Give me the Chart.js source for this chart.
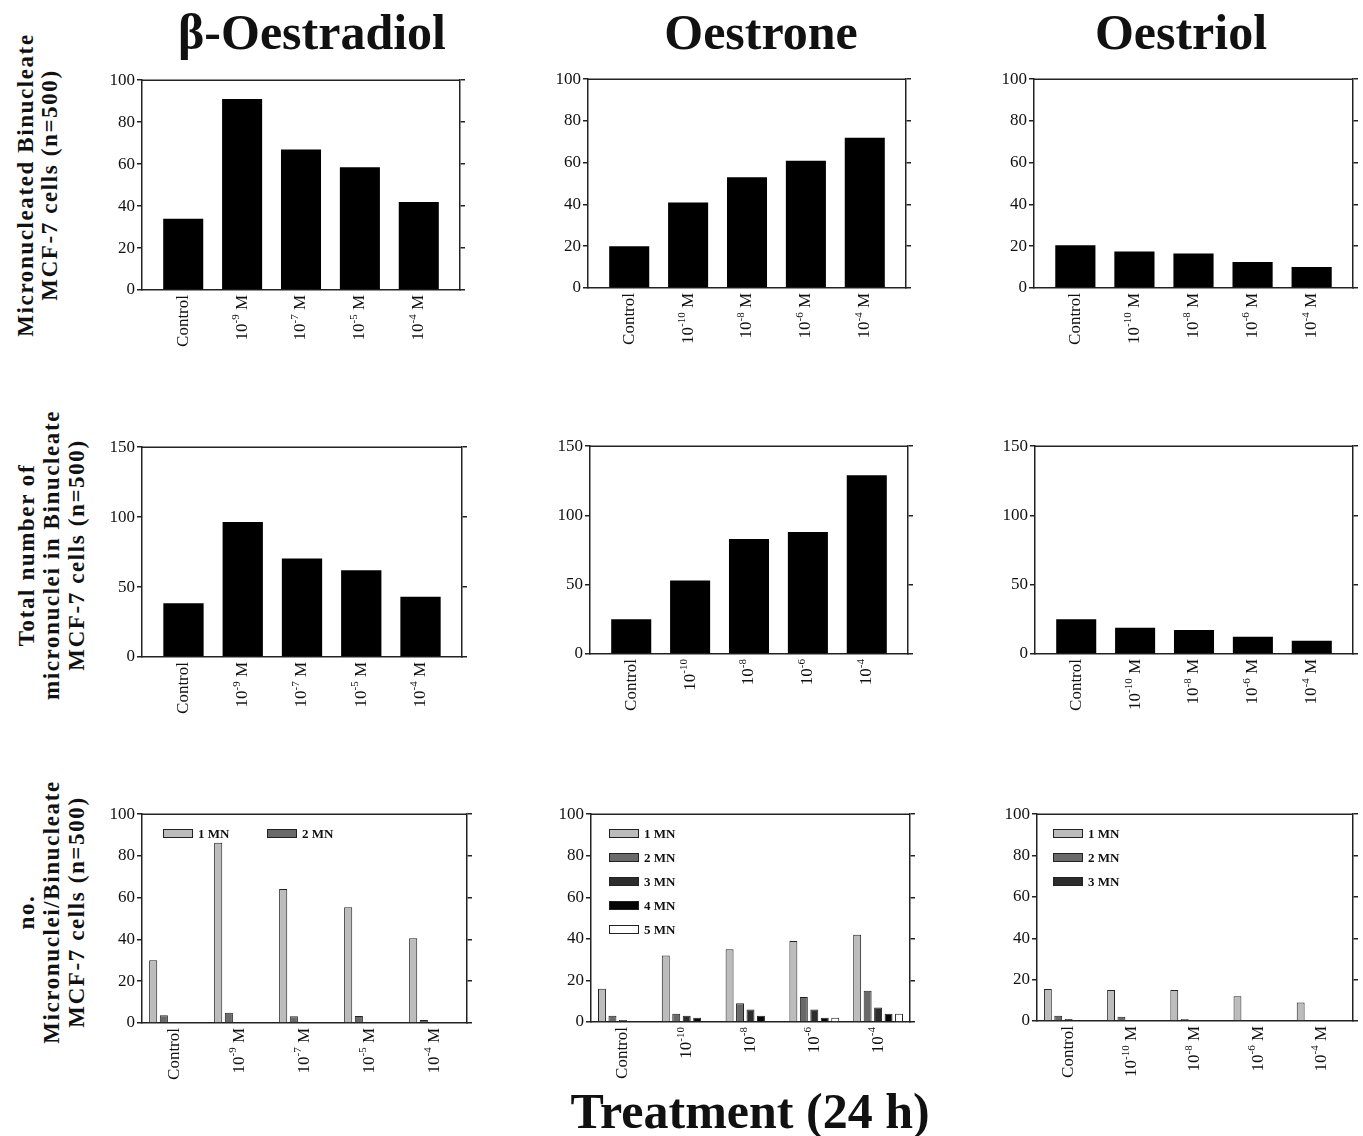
<!DOCTYPE html>
<html>
<head>
<meta charset="utf-8">
<script src="https://cdn.jsdelivr.net/npm/chart.js@4.4.1/dist/chart.umd.min.js"></script>
<style>
  html, body { margin: 0; padding: 0; background: #fff; }
  body { width: 1363px; height: 1136px; position: relative; overflow: hidden;
         font-family: "Liberation Serif", "Times New Roman", serif; color: #111; }
  canvas { position: absolute; }
  .title { position: absolute; font-weight: bold; font-size: 50px; line-height: 50px;
           white-space: nowrap; transform: translateX(-50%); }
  .ytitle { position: absolute; font-weight: bold; font-size: 23px; letter-spacing: 1.6px;
            text-align: center; white-space: nowrap; transform: translate(-50%, -50%) rotate(-90deg); }
  .leg { position: absolute; font-weight: bold; font-size: 13px; line-height: 13px; white-space: nowrap; }
  .sw { position: absolute; width: 28px; height: 7px; border: 1px solid #222; }
</style>
</head>
<body>
<div class="title" style="left:312px;top:7px">β-Oestradiol</div>
<div class="title" style="left:761px;top:7px">Oestrone</div>
<div class="title" style="left:1181px;top:7px">Oestriol</div>

<div class="ytitle" style="left:38px;top:185px;line-height:24px">Micronucleated Binucleate<br>MCF-7 cells (n=500)</div>
<div class="ytitle" style="left:51px;top:555px;line-height:25px">Total number of<br>micronuclei in Binucleate<br>MCF-7 cells (n=500)</div>
<div class="ytitle" style="left:51px;top:912px;line-height:25px">no.<br>Micronuclei/Binucleate<br>MCF-7 cells (n=500)</div>

<div class="title" style="left:750px;top:1086px">Treatment (24 h)</div>

<script>
// Concentrations (x axis labels)
const dosesE2 = ['Control', '10⁻⁹ M', '10⁻⁷ M', '10⁻⁵ M', '10⁻⁴ M'];
const dosesE1 = ['Control', '10⁻¹⁰ M', '10⁻⁸ M', '10⁻⁶ M', '10⁻⁴ M'];
const dosesE1Short = ['Control', '10⁻¹⁰', '10⁻⁸', '10⁻⁶', '10⁻⁴'];
const dosesE3 = ['Control', '10⁻¹⁰ M', '10⁻⁸ M', '10⁻⁶ M', '10⁻⁴ M'];

// Micronucleated binucleate cells (n=500)
const mnCellsE2 = [34, 91, 67, 58.5, 42];
const mnCellsE1 = [20, 41, 53, 61, 72];
const mnCellsE3 = [20.5, 17.5, 16.5, 12.5, 10];

// Total number of micronuclei in binucleate cells
const totalMnE2 = [38.5, 96.5, 70.5, 62, 43];
const totalMnE1 = [25, 53, 83, 88, 129];
const totalMnE3 = [25, 19, 17.3, 12.5, 9.6];

// Micronuclei per binucleate cell: 1 MN .. 5 MN
const mnClasses = ['1 MN', '2 MN', '3 MN', '4 MN', '5 MN'];
const mnColors = ['#bcbcbc', '#6a6a6a', '#2c2c2c', '#050505', '#ffffff'];

const perCellE2 = [
    [30, 86.3, 64.2, 55.4, 40.6],
    [3.7, 4.9, 3.2, 3.3, 1.4],
    [0, 0, 0, 0, 0],
    [0, 0, 0, 0, 0],
    [0, 0, 0, 0, 0]
];
const perCellE1 = [
    [16, 32, 35, 39, 42],
    [3, 4, 9, 12, 15],
    [1, 3, 6, 6, 7],
    [0, 2, 3, 2, 4],
    [0, 0, 0, 2, 4]
];
const perCellE3 = [
    [15.5, 15, 15, 12, 9],
    [2.5, 2, 1, 0, 0],
    [1, 0, 0, 0, 0],
    [0, 0, 0, 0, 0],
    [0, 0, 0, 0, 0]
];

const FONT = '"Liberation Serif", "Times New Roman", serif';
const AXIS = '#222';

// top edge of the frame
const frameTop = {
    id: 'frameTop',
    afterDraw(chart) {
        const a = chart.chartArea;
        const ctx = chart.ctx;
        ctx.save();
        ctx.strokeStyle = AXIS;
        ctx.lineWidth = 1.5;
        ctx.beginPath();
        ctx.moveTo(a.left, a.top);
        ctx.lineTo(a.right, a.top);
        ctx.stroke();
        ctx.restore();
    }
};

// "10⁻⁹ M" -> ["10", "-9", " M"] so the exponent can be drawn raised
const supMap = { '⁻': '-', '⁰': '0', '¹': '1', '²': '2', '³': '3', '⁴': '4', '⁵': '5', '⁶': '6', '⁷': '7', '⁸': '8', '⁹': '9' };
function splitLabel(s) {
    const m = s.match(/^(\d+)([⁻⁰¹²³⁴⁵⁶⁷⁸⁹]+)(.*)$/);
    if (!m) return [s, '', ''];
    return [m[1], Array.from(m[2]).map(c => supMap[c]).join(''), m[3]];
}

// rotated x labels with real superscripts
function doseLabels(labels) {
    return {
        id: 'doseLabels',
        afterDraw(chart) {
            const ctx = chart.ctx;
            const xs = chart.scales.x;
            const top = chart.chartArea.bottom + 5;
            const big = '17px ' + FONT, small = '11px ' + FONT;
            labels.forEach((lab, i) => {
                const [base, exp, rest] = splitLabel(lab);
                ctx.save();
                ctx.translate(xs.getPixelForValue(i), top);
                ctx.rotate(-Math.PI / 2);
                ctx.fillStyle = '#111';
                ctx.textBaseline = 'middle';
                ctx.textAlign = 'left';
                ctx.font = big;
                const wb = ctx.measureText(base).width;
                const wr = ctx.measureText(rest).width;
                ctx.font = small;
                const we = ctx.measureText(exp).width;
                let x = -(wb + we + wr);
                ctx.font = big;
                ctx.fillText(base, x, 0);
                x += wb;
                ctx.font = small;
                ctx.fillText(exp, x, -6);
                x += we;
                ctx.font = big;
                ctx.fillText(rest, x, 0);
                ctx.restore();
            });
        }
    };
}

function toPoints(values) {
    return values.map((v, i) => ({ x: i, y: v }));
}

// box = plot area [left, top, right, bottom] on the page
function makePanel(box, labels, datasets, yMax, yStep, pad, barPct, catPct) {
    const [L, T, R, B] = box;
    const canvas = document.createElement('canvas');
    const w = R - L + 60, h = B - T + 92;
    canvas.width = w; canvas.height = h;
    canvas.style.left = (L - 50) + 'px';
    canvas.style.top = (T - 12) + 'px';
    canvas.style.width = w + 'px';
    canvas.style.height = h + 'px';
    document.body.appendChild(canvas);

    const yCommon = {
        min: 0, max: yMax,
        grid: { display: true, drawOnChartArea: false, drawTicks: true, tickLength: 5, color: AXIS, lineWidth: 1.5 },
        border: { display: true, color: AXIS, width: 1.5 }
    };

    new Chart(canvas.getContext('2d'), {
        type: 'bar',
        data: {
            datasets: datasets.map(d => ({
                label: d.label,
                data: toPoints(d.values),
                backgroundColor: d.color,
                borderColor: d.border,
                borderWidth: d.borderWidth,
                borderSkipped: 'start',
                barPercentage: barPct,
                categoryPercentage: catPct
            }))
        },
        options: {
            responsive: false,
            animation: false,
            layout: { padding: { top: 12, right: 2, left: 0, bottom: 0 } },
            plugins: { legend: { display: false }, tooltip: { enabled: false } },
            scales: {
                x: {
                    type: 'linear',
                    min: -0.5 - pad, max: labels.length - 0.5 + pad,
                    offset: false,
                    afterBuildTicks: s => { s.ticks = labels.map((_, i) => ({ value: i })); },
                    afterFit: s => { s.height = 80; },
                    ticks: { display: false },
                    grid: { display: false },
                    border: { display: true, color: AXIS, width: 1.5 }
                },
                y: Object.assign({}, yCommon, {
                    position: 'left',
                    afterFit: s => { s.width = 50; },
                    ticks: { stepSize: yStep, padding: 2, color: '#111', font: { family: FONT, size: 17 } }
                }),
                y2: Object.assign({}, yCommon, {
                    position: 'right',
                    afterFit: s => { s.width = 8; },
                    ticks: { display: false, stepSize: yStep }
                })
            }
        },
        plugins: [frameTop, doseLabels(labels)]
    });
}

function solid(values) {
    return [{ label: 'value', values: values, color: '#000', border: '#000', borderWidth: 0 }];
}

function perCell(series) {
    return series.map((values, k) => ({
        label: mnClasses[k], values: values, color: mnColors[k], border: '#222', borderWidth: 1
    }));
}

// legend: swatch + label, positions on the page
function makeLegend(items, count) {
    for (let k = 0; k < count; k++) {
        const [x, y] = items[k];
        const sw = document.createElement('div');
        sw.className = 'sw';
        sw.style.left = x + 'px';
        sw.style.top = (y - 4) + 'px';
        sw.style.background = mnColors[k];
        document.body.appendChild(sw);
        const t = document.createElement('div');
        t.className = 'leg';
        t.style.left = (x + 35) + 'px';
        t.style.top = (y - 6) + 'px';
        t.textContent = mnClasses[k];
        document.body.appendChild(t);
    }
}

// Row 1
makePanel([142, 80, 460, 290], dosesE2, solid(mnCellsE2), 100, 20, 0.2, 0.68, 1);
makePanel([588, 79, 906, 288], dosesE1, solid(mnCellsE1), 100, 20, 0.2, 0.68, 1);
makePanel([1034, 79, 1353, 288], dosesE3, solid(mnCellsE3), 100, 20, 0.2, 0.68, 1);

// Row 2
makePanel([142, 447, 462, 657], dosesE2, solid(totalMnE2), 150, 50, 0.2, 0.68, 1);
makePanel([590, 446, 908, 654], dosesE1Short, solid(totalMnE1), 150, 50, 0.2, 0.68, 1);
makePanel([1035, 446, 1353, 654], dosesE3, solid(totalMnE3), 150, 50, 0.2, 0.68, 1);

// Row 3
makePanel([142, 814, 467, 1023], dosesE2, perCell(perCellE2), 100, 20, 0, 0.76, 0.82);
makePanel([591, 814, 910, 1022], dosesE1Short, perCell(perCellE1), 100, 20, 0, 0.76, 0.82);
makePanel([1037, 814, 1353, 1021], dosesE3, perCell(perCellE3), 100, 20, 0, 0.76, 0.82);

makeLegend([[163, 833], [267, 833]], 2);
makeLegend([[609, 833], [609, 857], [609, 881], [609, 905], [609, 929]], 5);
makeLegend([[1053, 833], [1053, 857], [1053, 881]], 3);
</script>
</body>
</html>
